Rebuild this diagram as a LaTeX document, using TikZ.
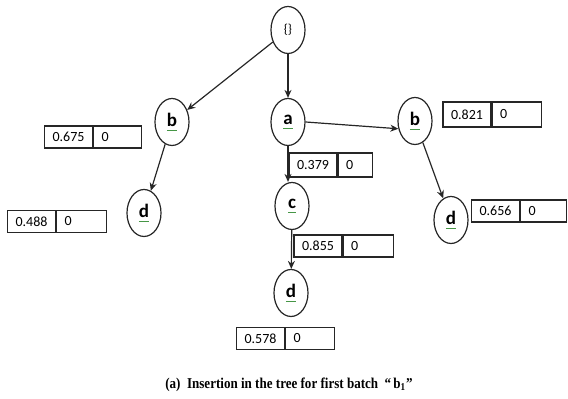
\documentclass[tikz,border=0pt]{standalone}
\usepackage{fontspec}
\setmainfont{Carlito}
\newfontfamily\capfont{Liberation Serif}
\usetikzlibrary{arrows.meta, positioning, shapes.geometric}
\definecolor{spellgreen}{RGB}{70,150,70}
\newcommand{\spelt}[1]{\setbox0\hbox{#1}\rlap{\color{spellgreen}\rule[-2.4pt]{\wd0}{0.45pt}}#1}
\tikzset{
  treenode/.style={draw, ellipse, minimum width=17pt, minimum height=23.5pt, inner sep=0pt,
    font=\fontsize{9.5}{10}\selectfont\bfseries},
  valcell/.style={draw, minimum width=24pt, minimum height=11pt, inner sep=0pt,
    font=\fontsize{7}{8}\selectfont},
  cntcell/.style={draw, minimum height=11pt, text width=#1, inner xsep=4pt, inner ysep=0pt,
    align=left, font=\fontsize{7}{8}\selectfont},
  cntcell/.default=16.5pt,
  arr/.style={-{Stealth[length=4pt, width=3.5pt]}}
}

\begin{document}
\begin{tikzpicture}[x=0.5pt, y=-0.5pt, line width=0.6pt, draw=black!85]
  \useasboundingbox (0,0) rectangle (568,399);
  % tree
  \node[treenode, font=\fontsize{6.5}{7}\selectfont] (root) at (288,30) {\{\}};
  \node[treenode] (bL) at (172,122) {\spelt{b}};
  \node[treenode] (a) at (288,122) {\spelt{a}};
  \node[treenode] (bR) at (415,121) {\spelt{b}};
  \node[treenode] (dL) at (144,213) {\spelt{d}};
  \node[treenode] (c) at (292,206) {\spelt{c}};
  \node[treenode] (dR) at (451,220) {\spelt{d}};
  \node[treenode] (dB) at (291,293) {\spelt{d}};
  %
  \draw[arr] (root) -- (bL);
  \draw[arr] (root) -- (a);
  \draw[arr] (bL) -- (dL);
  \draw[arr] (a.east) -- (bR.205);
  \draw[arr] (bR) -- (dR);
  \draw[arr] (a.south) -- (a.south |- c.north);
  \draw[arr] (c) -- (dB);
  % value / count cells
  \node[valcell] (v675) at (68.5,137) {0.675};
  \node[cntcell=16pt, right=0pt of v675] (n675) {0};
  \node[valcell] (v488) at (31.5,221.5) {0.488};
  \node[cntcell=17pt, right=0pt of v488] (n488) {0};
  \node[valcell, minimum height=12.5pt] (v821) at (467,114.5) {0.821};
  \node[cntcell, minimum height=12.5pt, right=0pt of v821] (n821) {0};
  \node[valcell, minimum height=12pt] (v379) at (313,165) {0.379};
  \node[cntcell=9pt, minimum height=12pt, right=0pt of v379] (n379) {0};
  \node[valcell] (v656) at (495.5,211) {0.656};
  \node[cntcell=15pt, right=0pt of v656] (n656) {0};
  \node[valcell] (v855) at (318,246) {0.855};
  \node[cntcell=17pt, right=0pt of v855] (n855) {0};
  \node[valcell] (v578) at (260.5,338.5) {0.578};
  \node[cntcell, right=0pt of v578] (n578) {0};
  % caption
  \node[font=\capfont\bfseries\fontsize{7.5}{8}\selectfont] (caption) at (289,385)
    {\scalebox{0.87}[1]{(a)\ \ Insertion in the tree for first batch \ “\,b\textsubscript{1}”}};
\end{tikzpicture}
\end{document}
